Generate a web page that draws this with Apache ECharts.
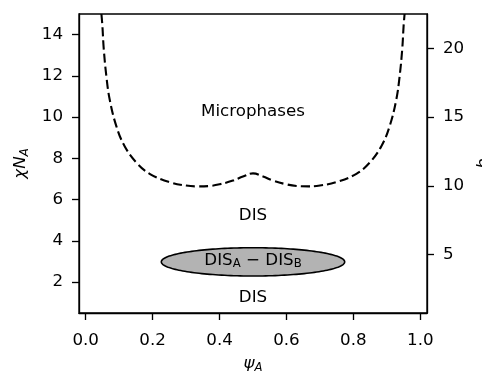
<!DOCTYPE html>
<html>
<head>
<meta charset="utf-8">
<script src="https://cdn.jsdelivr.net/npm/echarts@6/dist/echarts.min.js"></script>
<style>
  html, body { margin: 0; padding: 0; background: #fff; }
  #chart { width: 482px; height: 371px; }
</style>
</head>
<body>
<div id="chart"></div>
<script>
// Microphase boundary (dashed): composition psi_A vs. chi*N_A
const boundaryPsi  = [0.047, 0.050, 0.054, 0.062, 0.072, 0.092, 0.116, 0.151, 0.191, 0.250, 0.300, 0.334, 0.370, 0.400, 0.440, 0.470, 0.500,
                      0.530, 0.560, 0.600, 0.630, 0.666, 0.700, 0.750, 0.809, 0.849, 0.884, 0.908, 0.928, 0.938, 0.946, 0.950, 0.953];
const boundaryChiN = [15.0, 14.4, 13.3, 11.95, 10.83, 9.54, 8.6, 7.8, 7.25, 6.85, 6.68, 6.64, 6.66, 6.74, 6.92, 7.12, 7.27,
                      7.12, 6.92, 6.74, 6.66, 6.64, 6.68, 6.85, 7.25, 7.8, 8.6, 9.54, 10.83, 11.95, 13.3, 14.4, 15.0];

// Two-phase (DIS_A - DIS_B) coexistence region drawn as an ellipse
const coexistCenter = [0.5, 2.98];
const coexistRadii  = [0.274, 0.686];

// Region annotations
const regionNames = ['Microphases', 'DIS', 'DIS', 'DIS{s|A} \u2212 DIS{s|B}'];
const regionPsi   = [0.5, 0.5, 0.5, 0.5];
const regionChiN  = [10.25, 5.2, 1.25, 3.05];

// Axis ticks
const psiTicks = [0, 0.2, 0.4, 0.6, 0.8, 1.0];
const chiTicks = [2, 4, 6, 8, 10, 12, 14];
const bTicks   = [5, 10, 15, 20];

const FONT = 'DejaVu Sans';
const FS = 16.7;
const LW = 1.33;

const chart = echarts.init(document.getElementById('chart'), null, { renderer: 'canvas' });

const subStyle = { fontSize: 11.7, lineHeight: 12, verticalAlign: 'bottom', fontFamily: FONT, color: '#000' };
const subStyleItalic = Object.assign({}, subStyle, { fontStyle: 'italic' });

const axisCommon = {
  type: 'value',
  axisLine: { show: true, onZero: false, lineStyle: { color: '#000', width: LW } },
  axisTick: { show: true, length: 7, lineStyle: { color: '#000', width: LW } },
  splitLine: { show: false },
  axisLabel: { color: '#000', fontFamily: FONT, fontSize: FS }
};

chart.setOption({
  animation: false,
  backgroundColor: '#fff',
  grid: {
    left: 79, right: 55, top: 14, bottom: 58,
    outerBoundsMode: 'none',
    containLabel: false,
    show: true, borderColor: '#000', borderWidth: LW, backgroundColor: 'transparent'
  },
  xAxis: Object.assign({}, axisCommon, {
    min: -0.02, max: 1.02,
    axisTick: Object.assign({}, axisCommon.axisTick, { customValues: psiTicks }),
    axisLabel: Object.assign({}, axisCommon.axisLabel, {
      customValues: psiTicks, margin: 19, formatter: v => v.toFixed(1)
    }),
    name: '\u03C8{s|A}', nameLocation: 'middle', nameGap: 40,
    nameTextStyle: { color: '#000', fontFamily: FONT, fontSize: FS, fontStyle: 'italic', lineHeight: 20, rich: { s: subStyleItalic } }
  }),
  yAxis: [
    Object.assign({}, axisCommon, {
      position: 'left', min: 0.5, max: 15,
      axisTick: Object.assign({}, axisCommon.axisTick, { customValues: chiTicks }),
      axisLabel: Object.assign({}, axisCommon.axisLabel, { customValues: chiTicks, margin: 16 }),
      name: '\u03C7N{s|A}', nameLocation: 'middle', nameGap: 39, nameRotate: 90,
      nameTextStyle: { color: '#000', fontFamily: FONT, fontSize: FS, fontStyle: 'italic', lineHeight: 20, rich: { s: subStyleItalic } }
    }),
    Object.assign({}, axisCommon, {
      position: 'right', min: 0.75, max: 22.5,
      axisTick: Object.assign({}, axisCommon.axisTick, { customValues: bTicks }),
      axisLabel: Object.assign({}, axisCommon.axisLabel, { customValues: bTicks, margin: 16 }),
      name: 'b', nameLocation: 'middle', nameGap: 42, nameRotate: 90,
      nameTextStyle: { color: '#000', fontFamily: FONT, fontSize: FS, fontStyle: 'italic' }
    })
  ],
  series: [
    {
      type: 'custom',
      xAxisIndex: 0, yAxisIndex: 0,
      data: [[coexistCenter[0], coexistCenter[1]]],
      silent: true,
      z: 2,
      renderItem: function (params, api) {
        const c  = api.coord([coexistCenter[0], coexistCenter[1]]);
        const ex = api.coord([coexistCenter[0] + coexistRadii[0], coexistCenter[1]]);
        const ey = api.coord([coexistCenter[0], coexistCenter[1] + coexistRadii[1]]);
        const a = Math.abs(ex[0] - c[0]);
        const b = Math.abs(c[1] - ey[1]);
        const pts = [];
        for (let i = 0; i < 180; i++) {
          const t = (i / 180) * Math.PI * 2;
          pts.push([c[0] + a * Math.cos(t), c[1] + b * Math.sin(t)]);
        }
        return {
          type: 'polygon',
          shape: { points: pts },
          style: { fill: '#b3b3b3', stroke: '#000', lineWidth: 1.6 }
        };
      }
    },
    {
      type: 'line',
      xAxisIndex: 0, yAxisIndex: 0,
      data: boundaryPsi.map((x, i) => [x, boundaryChiN[i]]),
      showSymbol: false,
      symbol: 'none',
      smooth: 0.4,
      clip: true,
      silent: true,
      z: 3,
      lineStyle: { color: '#000', width: 2.1, type: [9.2, 4] }
    },
    {
      type: 'scatter',
      xAxisIndex: 0, yAxisIndex: 0,
      symbolSize: 0,
      silent: true,
      z: 5,
      itemStyle: { opacity: 1 },
      data: regionNames.map((n, i) => ({ name: n, value: [regionPsi[i], regionChiN[i]] })),
      label: {
        show: true,
        position: 'inside',
        formatter: p => p.name,
        color: '#000',
        fontFamily: FONT,
        fontSize: FS,
        lineHeight: 20,
        rich: { s: subStyle }
      }
    }
  ]
});
</script>
</body>
</html>
